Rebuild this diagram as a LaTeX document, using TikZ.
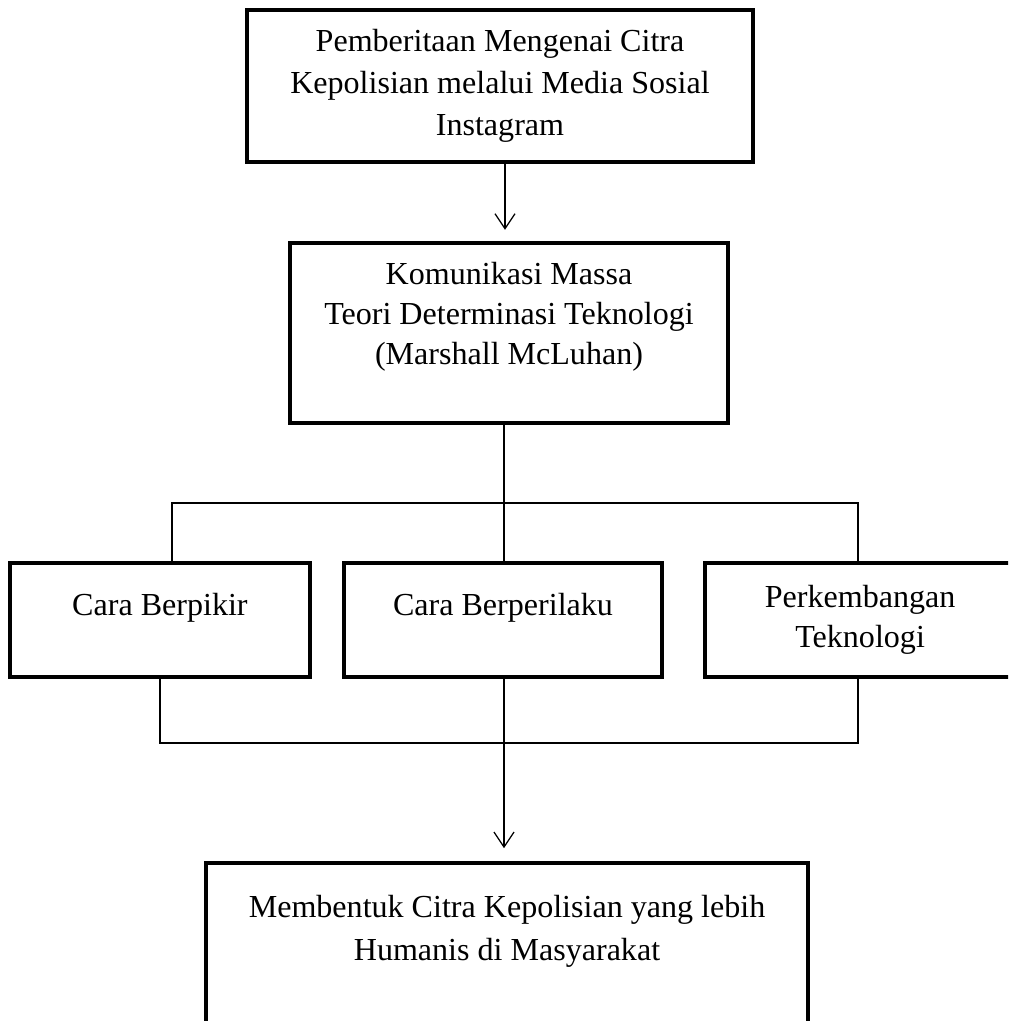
\documentclass[tikz,border=0pt]{standalone}
\usepackage{fontspec}
\setmainfont{Liberation Serif}
\usetikzlibrary{arrows.meta,positioning}

\begin{document}
\begin{tikzpicture}[
    x=0.025cm, y=-0.025cm,
    font=\fontsize{22.8}{28.5}\selectfont,
    kotak/.style={draw, line width=2.8pt, align=center, inner sep=0pt, outer sep=0pt},
    satubaris/.style={kotak, minimum height=2.85cm, text depth=0.78cm},
    garis/.style={line width=0.9pt},
    panah/.style={-{Straight Barb[length=3.75mm, width=5mm]}, line width=0.9pt}
  ]
    \useasboundingbox (0,0) rectangle (1008,1021);
    \clip (0,0) rectangle (1008,1021);

    \node[kotak, minimum width=12.65cm, minimum height=3.8cm] (pemberitaan) at (500,86)
      {Pemberitaan Mengenai Citra\\[0.05cm]Kepolisian melalui Media Sosial\\[0.05cm]Instagram};
    \node[kotak, minimum width=10.95cm, minimum height=4.5cm, below=2.025cm of pemberitaan, xshift=2.25mm] (komunikasi)
      {Komunikasi Massa\\Teori Determinasi Teknologi\\(Marshall McLuhan)\\~};

    \node[satubaris, minimum width=7.95cm, below=3.5cm of komunikasi, xshift=-1.5mm] (berperilaku)
      {Cara Berperilaku};
    \node[satubaris, minimum width=7.5cm, left=0.85cm of berperilaku] (berpikir)
      {Cara Berpikir};
    \node[kotak, minimum width=7.75cm, minimum height=2.85cm, right=1.075cm of berperilaku] (perkembangan)
      {Perkembangan\\Teknologi};

    \node[kotak, minimum width=15.05cm, inner ysep=0.8cm, below=4.65cm of berperilaku, xshift=1mm] (membentuk)
      {Membentuk Citra Kepolisian yang lebih\\[0.08cm]Humanis di Masyarakat\\~\\~};

    \coordinate (atas) at (504,503);
    \coordinate (bawah) at (504,743);

    \draw[panah] ([xshift=1.25mm]pemberitaan.south) -- ([xshift=1.25mm, yshift=3.3mm]komunikasi.north -| pemberitaan.south);
    \draw[garis] (komunikasi.south -| atas) -- (berperilaku.north -| atas);
    \draw[garis] ([xshift=3mm]berpikir.north) |- (atas) -| ([xshift=-0.5mm]perkembangan.north);
    \draw[garis] (berpikir.south) |- (bawah) -| ([xshift=-0.5mm]perkembangan.south);
    \draw[garis] (berperilaku.south -| bawah) -- (bawah);
    \draw[panah] (bawah) -- ([yshift=3.75mm]membentuk.north -| bawah);
  \end{tikzpicture}
\end{document}
